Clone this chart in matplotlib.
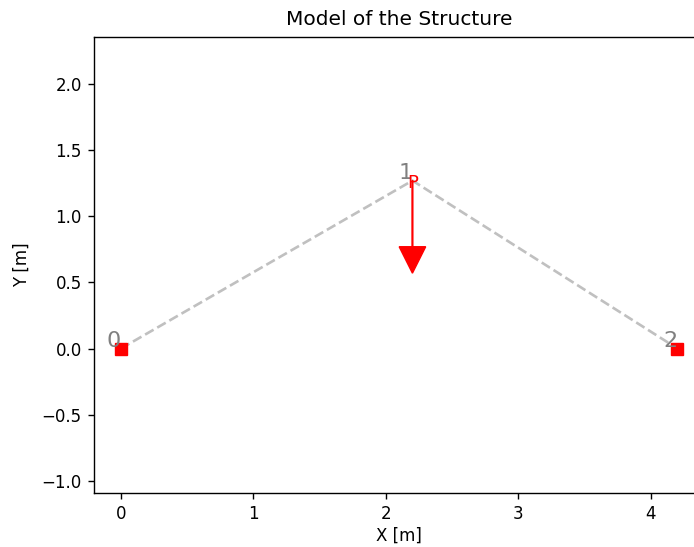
import numpy as np
import matplotlib.pyplot as plt

# nodes of the truss
node_x = [0.0, 2.2, 4.2]
node_y = [0.0, 1.27, 0.0]
node_labels = ["0", "1", "2"]
support_x = [0.0, 4.2]
support_y = [0.0, 0.0]
load_dx = 0.0
load_dy = -0.70

fig = plt.figure(figsize=(6.94, 5.47), dpi=100)
# right side of the axes runs past the edge of the figure
ax = fig.add_axes([93.7 / 694, 1 - 492.7 / 547, (704 - 93.7) / 694, (492.7 - 37) / 547])

ax.plot(node_x, node_y, color="silver", linestyle="--", linewidth=1.9, dashes=(3.7, 1.6), zorder=1)
ax.plot(support_x, support_y, "s", color="red", markersize=8, zorder=3)
ax.annotate("P", (node_x[1], node_y[1]), xytext=(0.5, -2), textcoords="offset points",
            color="red", fontsize=13, ha="center", va="center", zorder=5)
for i in range(len(node_x)):
    ax.annotate(node_labels[i], (node_x[i], node_y[i]), xytext=(0, -2), textcoords="offset points",
                color="gray", fontsize=16, ha="right", va="bottom", zorder=4)
ax.arrow(node_x[1], node_y[1], load_dx, load_dy, color="red",
         width=0.006, head_width=0.2, head_length=0.2, length_includes_head=True, zorder=2)

ax.set_xlim(-0.205, 4.4)
ax.set_ylim(-1.09, 2.356)
ax.set_xticks([0, 1, 2, 3, 4])
ax.set_yticks(np.arange(-1.0, 2.5, 0.5))
ax.tick_params(labelsize=12, length=4.4, width=1.0, pad=4.2)
for s in ax.spines.values():
    s.set_linewidth(1.0)
ax.set_title("Model of the Structure", fontsize=14.5, pad=8.5)
ax.set_xlabel("X [m]", fontsize=12, labelpad=3)
ax.set_ylabel("Y [m]", fontsize=12, labelpad=7.5)

fig.savefig("out.png", dpi=100)
